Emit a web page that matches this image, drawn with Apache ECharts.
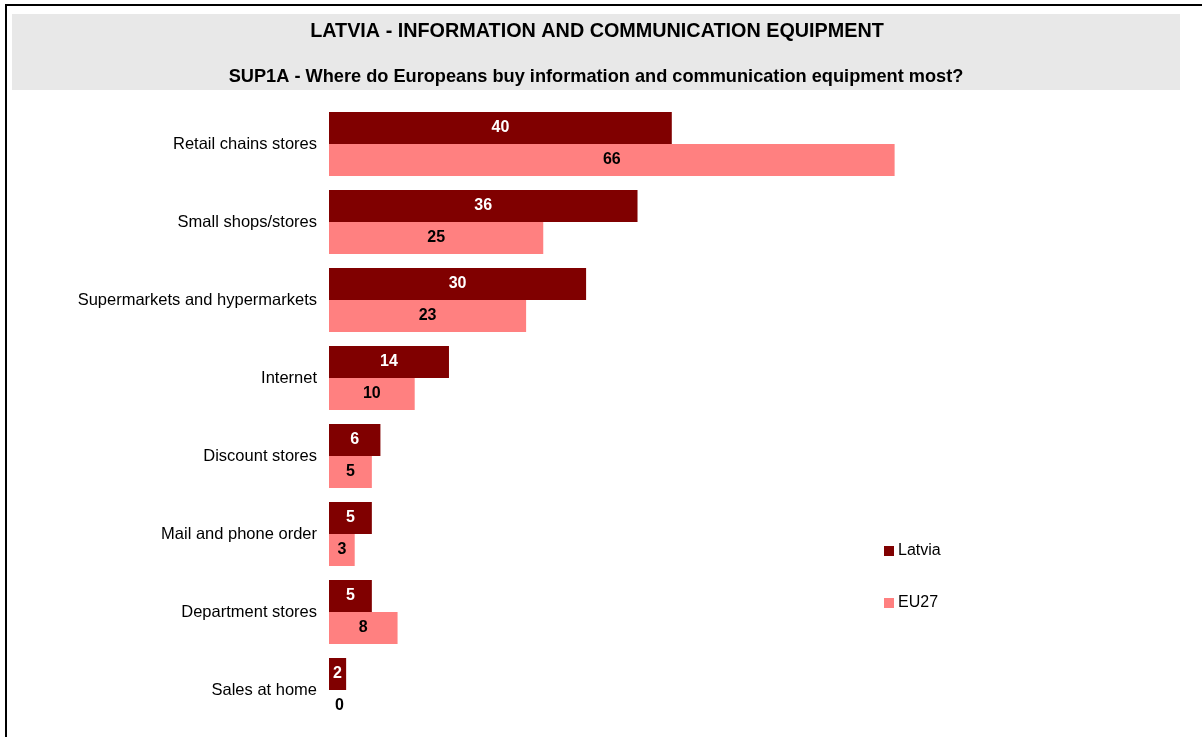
<!DOCTYPE html>
<html>
<head>
<meta charset="utf-8">
<script src="https://cdn.jsdelivr.net/npm/echarts@6/dist/echarts.min.js"></script>
<style>
html,body{margin:0;padding:0;background:#fff;}
#main{width:1202px;height:737px;}
</style>
</head>
<body>
<div id="main"></div>
<script>
const categories = ["Retail chains stores","Small shops/stores","Supermarkets and hypermarkets","Internet","Discount stores","Mail and phone order","Department stores","Sales at home"];
const latvia = [40,36,30,14,6,5,5,2];
const eu27 = [66,25,23,10,5,3,8,0];
const seriesNames = ["Latvia","EU27"];
const titleText = "LATVIA - INFORMATION AND COMMUNICATION EQUIPMENT";
const subtitleText = "SUP1A - Where do Europeans buy information and communication equipment most?";

const chart = echarts.init(document.getElementById('main'));
const font = 'Arial, "Liberation Sans", sans-serif';

function toData(arr){
  return arr.map(v => v === 0 ? {value: v, label: {position: 'right', distance: 6}} : v);
}

chart.setOption({
  animation: false,
  backgroundColor: '#fff',
  graphic: [
    {type:'rect', shape:{x:6, y:5, width:1210, height:760}, style:{fill:'none', stroke:'#000', lineWidth:2}, z:-1},
    {type:'rect', shape:{x:12, y:14, width:1168, height:76}, style:{fill:'#e8e8e8'}, z:-1}
  ],
  title: [
    {text: titleText, left: 592, top: 17, textAlign: 'center',
     textStyle:{fontFamily:font, fontSize:19.8, fontWeight:'bold', color:'#000'}},
    {text: subtitleText, left: 591, top: 63, textAlign: 'center',
     textStyle:{fontFamily:font, fontSize:18.2, fontWeight:'bold', color:'#000'}}
  ],
  legend: {
    orient: 'vertical', left: 879, top: 538, itemGap: 36,
    itemWidth: 10, itemHeight: 10, icon: 'rect',
    textStyle: {fontFamily: font, fontSize: 16, color: '#000', padding:[0,0,0,-1]},
    data: seriesNames
  },
  grid: {left: 329, top: 105, width: 857, height: 624, containLabel: false},
  xAxis: {type:'value', min:0, max:100, show:false},
  yAxis: {type:'category', data: categories, inverse:true,
    axisLine:{show:false}, axisTick:{show:false}, splitLine:{show:false},
    axisLabel:{fontFamily:font, fontSize:16.5, color:'#000', margin:12}},
  series: [
    {name: seriesNames[0], type:'bar', data: toData(latvia), barGap:'0%', barCategoryGap:'18%',
     itemStyle:{color:'#800000'},
     label:{show:true, position:'inside', color:'#fff', fontFamily:font, fontSize:16, fontWeight:'bold'}},
    {name: seriesNames[1], type:'bar', data: toData(eu27), barGap:'0%', barCategoryGap:'18%',
     itemStyle:{color:'#ff8080'},
     label:{show:true, position:'inside', color:'#000', fontFamily:font, fontSize:16, fontWeight:'bold'}}
  ]
});
</script>
</body>
</html>
